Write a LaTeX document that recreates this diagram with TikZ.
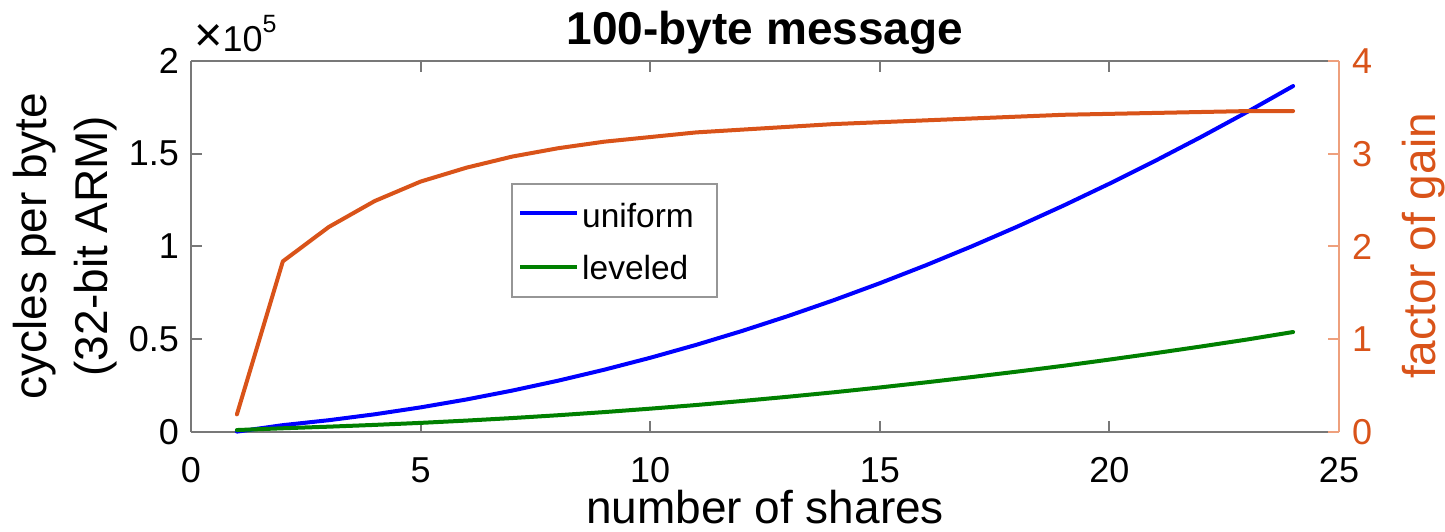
\documentclass[tikz,border=0pt]{standalone}
\usepackage{fontspec}
\usepackage{graphicx}
\setmainfont{Liberation Sans}
\definecolor{mblue}{RGB}{0,0,255}
\definecolor{mgreen}{RGB}{0,128,0}
\definecolor{morange}{RGB}{217,83,25}
\definecolor{axgray}{RGB}{120,120,120}
\definecolor{axorange}{RGB}{238,160,125}
\definecolor{leggray}{RGB}{150,150,150}
\begin{document}
\begin{tikzpicture}[x=1pt,y=1pt,
  axline/.style={axgray, line width=2pt},
  raxline/.style={axorange, line width=2pt},
  ticklab/.style={font=\fontsize{36}{40}\selectfont, inner sep=0pt},
  rticklab/.style={ticklab, text=morange},
  axlab/.style={font=\fontsize{46}{61}\selectfont, inner sep=0pt},
  legtext/.style={font=\fontsize{33.5}{38}\selectfont, inner sep=0pt, anchor=base west},
  dataline/.style={line width=4pt, line cap=round, line join=round}]
\useasboundingbox (0,0) rectangle (1445,532);
% axes box
\draw[axline] (191,471) -- (1339,471);
\draw[axline] (191,100) -- (1339,100);
\draw[axline] (191,100) -- (191,471);
\draw[raxline] (1339,100) -- (1339,471);
% x ticks
\foreach \n in {5,10,15,20} {
  \draw[axline] ({191+45.92*\n},100) -- ({191+45.92*\n},111);
  \draw[axline] ({191+45.92*\n},471) -- ({191+45.92*\n},460);
}
\foreach \n in {0,5,10,15,20,25} {
  \node[ticklab, anchor=base] (xt\n) at ({191+45.92*\n},49) {\n};
}
% left y ticks
\foreach \v in {0.5,1,1.5} {
  \draw[axline] (191,{100+185.5*\v}) -- (202,{100+185.5*\v});
}
\foreach \v/\lab/\nm in {0/0/a,0.5/0.5/b,1/1/c,1.5/1.5/d,2/2/e} {
  \node[ticklab, anchor=east] (yl\nm) at (179,{100+185.5*\v}) {\lab};
}
% right y ticks
\foreach \k in {0,1,2,3,4} {
  \draw[raxline] (1339,{100+92.75*\k}) -- (1328,{100+92.75*\k});
  \node[rticklab, anchor=west] (yr\k) at (1352,{100+92.75*\k}) {\k};
}
% exponent
\node[ticklab, anchor=base west] (expo) at (194,480) {\scalebox{1.35}{×}10\raisebox{19pt}{\fontsize{25}{28}\selectfont 5}};
% labels
\node[font=\fontsize{46}{55}\selectfont\bfseries, inner sep=0pt, anchor=base] (title) at (765,487) {100-byte message};
\node[axlab, anchor=base] (xlab) at (765,8) {number of shares};
\node[axlab, rotate=90, align=center] (ylab) at (65,286) {cycles per byte\\(32-bit ARM)};
\node[axlab, rotate=90, text=morange] (rlab) at (1424,286) {factor of gain};
% data
\begin{scope}[shift={(191,100)}, x=45.92pt, y=185.5pt]
\draw[mblue, dataline] plot coordinates {(1,0.002) (2,0.0369) (3,0.0635) (4,0.0954) (5,0.1327) (6,0.1754) (7,0.2235) (8,0.2769) (9,0.3358) (10,0.4000) (11,0.4696) (12,0.5446) (13,0.6250) (14,0.7108) (15,0.8020) (16,0.8985) (17,1.0005) (18,1.1078) (19,1.2205) (20,1.3386) (21,1.4621) (22,1.5910) (23,1.7252) (24,1.8649)};
\draw[mgreen, dataline] plot coordinates {(1,0.0105) (2,0.0201) (3,0.0287) (4,0.0383) (5,0.0491) (6,0.0615) (7,0.0752) (8,0.0905) (9,0.1073) (10,0.1258) (11,0.1454) (12,0.1671) (13,0.1900) (14,0.2141) (15,0.2401) (16,0.2674) (17,0.2960) (18,0.3258) (19,0.3569) (20,0.3903) (21,0.4250) (22,0.4611) (23,0.4986) (24,0.5390)};
\end{scope}
\begin{scope}[shift={(191,100)}, x=45.92pt, y=92.75pt]
\draw[morange, dataline] plot coordinates {(1,0.19) (2,1.84) (3,2.21) (4,2.49) (5,2.70) (6,2.85) (7,2.97) (8,3.06) (9,3.13) (10,3.18) (11,3.23) (12,3.26) (13,3.29) (14,3.32) (15,3.34) (16,3.36) (17,3.38) (18,3.40) (19,3.42) (20,3.43) (21,3.44) (22,3.45) (23,3.46) (24,3.46)};
\end{scope}
% legend
\node[draw=leggray, line width=1.5pt, fill=white, minimum width=205pt, minimum height=113pt, inner sep=0pt] (legend) at (614.5,291.5) {};
\coordinate (lb1) at (520,319);
\coordinate (lb2) at (577,319);
\coordinate (lg1) at (520,265);
\coordinate (lg2) at (577,265);
\draw[mblue, line width=4pt] (lb1) -- (lb2);
\draw[mgreen, line width=4pt] (lg1) -- (lg2);
\node[legtext] (lu) at (582,304) {uniform};
\node[legtext] (ll) at (582,252) {leveled};
\end{tikzpicture}
\end{document}
